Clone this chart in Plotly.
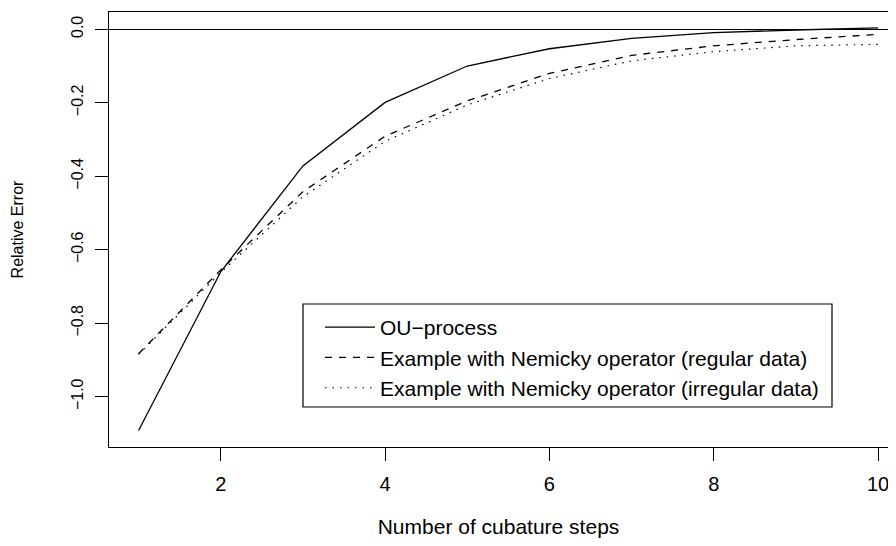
import plotly.graph_objects as go

steps = [1, 2, 3, 4, 5, 6, 7, 8, 9, 10]
ou_process = [-1.092, -0.660, -0.372, -0.199, -0.100, -0.053, -0.025, -0.009, -0.002, 0.004]
nemicky_regular = [-0.883, -0.655, -0.442, -0.291, -0.195, -0.120, -0.071, -0.045, -0.028, -0.014]
nemicky_irregular = [-0.885, -0.662, -0.456, -0.305, -0.206, -0.134, -0.086, -0.061, -0.045, -0.041]

names = ["OU\u2212process",
         "Example with Nemicky operator (regular data)",
         "Example with Nemicky operator (irregular data)"]
x_ticks = [2, 4, 6, 8, 10]
y_ticks = [-1.0, -0.8, -0.6, -0.4, -0.2, 0.0]

FONT = "Liberation Sans, Arial, Helvetica, sans-serif"

# page body has an 8px margin: figure is sized so that nothing overflows
PL, PR, PT, PB = 109, 888, 12, 447   # plot area in page pixels
PW, PH = PR - PL, PB - PT


def px(x):
    return (x - PL) / PW


def py(y):
    return (PB - y) / PH


fig = go.Figure()
fig.add_trace(go.Scatter(x=steps, y=ou_process, mode="lines", name=names[0],
                         line=dict(color="black", width=1.3)))
fig.add_trace(go.Scatter(x=steps, y=nemicky_regular, mode="lines", name=names[1],
                         line=dict(color="black", width=1.3, dash="7px,7px")))
fig.add_trace(go.Scatter(x=steps, y=nemicky_irregular, mode="lines", name=names[2],
                         line=dict(color="black", width=1.2, dash="1.5px,6px")))

fig.update_layout(
    width=880, height=530,
    margin=dict(l=PL - 8, r=0, t=PT - 8, b=530 + 8 - PB, autoexpand=False),
    paper_bgcolor="white", plot_bgcolor="white",
    font=dict(family=FONT, color="black", size=20),
    showlegend=True,
    legend=dict(x=px(320), y=py(307), xanchor="left", yanchor="top",
                bgcolor="rgba(0,0,0,0)", borderwidth=0,
                font=dict(size=21), itemwidth=50, tracegroupgap=0),
    shapes=[dict(type="rect", xref="paper", yref="paper",
                 x0=px(303), x1=px(832), y0=py(407), y1=py(304),
                 line=dict(color="black", width=1.2), fillcolor="white",
                 layer="below")],
)
fig.update_xaxes(
    range=[0.64, 0.64 + PW / 82.17], tickvals=x_ticks, ticktext=[str(v) for v in x_ticks],
    showline=True, linecolor="black", linewidth=1.2, mirror=True,
    ticks="outside", ticklen=13, tickcolor="black", tickwidth=1,
    showgrid=False, zeroline=False, tickfont=dict(size=20), ticklabelstandoff=6,
    ticklabeloverflow="allow", automargin=False,
    title=dict(text="Number of cubature steps", font=dict(size=21), standoff=42),
)
fig.update_yaxes(
    range=[-1.137, 0.047], tickvals=y_ticks, tickformat=".1f",
    showline=True, linecolor="black", linewidth=1.2, mirror=False,
    ticks="outside", ticklen=13, tickcolor="black", tickwidth=1,
    showgrid=False, zeroline=True, zerolinecolor="black", zerolinewidth=1.2,
    tickangle=-90, tickfont=dict(size=16), ticklabelstandoff=6,
    ticklabeloverflow="allow", automargin=False,
    title=dict(text="Relative Error", font=dict(size=16), standoff=40),
)

fig.write_html("out.html")
